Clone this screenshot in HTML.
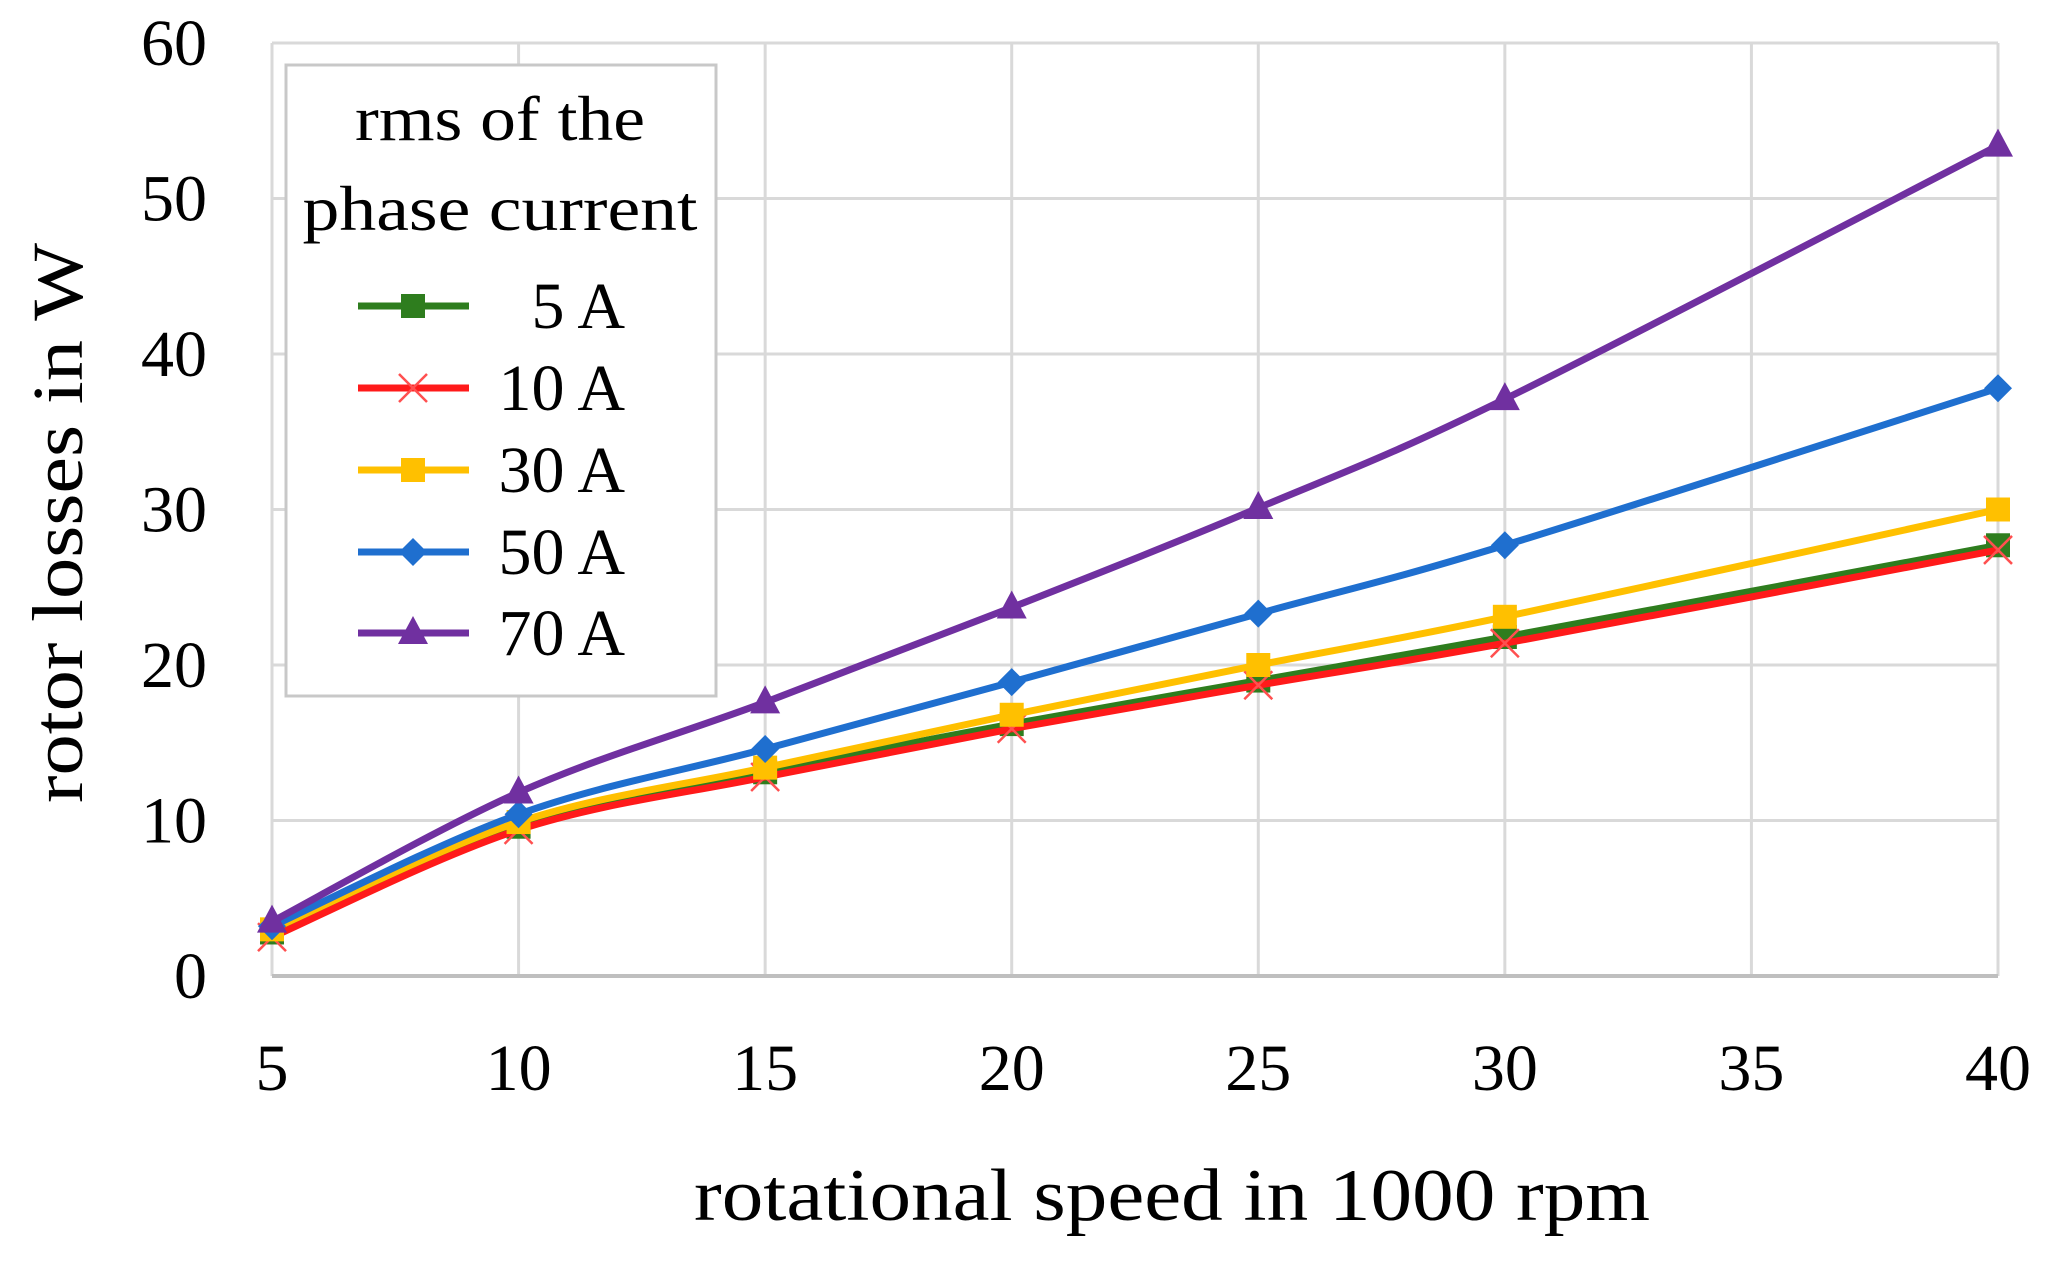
<!DOCTYPE html>
<html><head><meta charset="utf-8"><style>
html,body{margin:0;padding:0;background:#fff;}
svg{display:block;}
text{font-family:"Liberation Serif",serif;fill:#000;}
</style></head><body>
<svg id="chart" width="2046" height="1263" viewBox="0 0 2046 1263" xmlns="http://www.w3.org/2000/svg">
<g id="grid"></g>
<g id="axes"></g>
<g id="series"></g>
<text transform="translate(82,523) rotate(-90)" text-anchor="middle" font-size="72" textLength="560" lengthAdjust="spacingAndGlyphs">rotor losses in W</text>
<text x="1172" y="1220" text-anchor="middle" font-size="74" textLength="956" lengthAdjust="spacingAndGlyphs">rotational speed in 1000 rpm</text>
<g id="legend">
<rect x="286" y="65" width="430" height="631" fill="#fff" stroke="#c8c8c8" stroke-width="3"/>
<text x="500" y="140" text-anchor="middle" font-size="64" textLength="290" lengthAdjust="spacingAndGlyphs">rms of the</text>
<text x="500" y="230" text-anchor="middle" font-size="64" textLength="395" lengthAdjust="spacingAndGlyphs">phase current</text>
</g>
</svg>
<script>
const categories = [5, 10, 15, 20, 25, 30, 40];
const xTicks = [5, 10, 15, 20, 25, 30, 35, 40];
const yTicks = [0, 10, 20, 30, 40, 50, 60];
const seriesNames = ['5 A', '10 A', '30 A', '50 A', '70 A'];
const s5 = [2.8, 9.6, 13.1, 16.2, 19.0, 21.8, 27.7];
const s10 = [2.5, 9.4, 12.8, 15.9, 18.7, 21.4, 27.4];
const s30 = [3.0, 9.9, 13.4, 16.8, 20.0, 23.1, 30.0];
const s50 = [3.2, 10.4, 14.6, 18.9, 23.3, 27.7, 37.8];
const s70 = [3.5, 11.8, 17.6, 23.7, 30.1, 37.1, 53.4];

const NS = 'http://www.w3.org/2000/svg';
const X0 = 272, X1 = 1998, Y0 = 976, Y1 = 43;
function xs(v){ return X0 + (v - 5) / 35 * (X1 - X0); }
function ys(v){ return Y0 - v / 60 * (Y0 - Y1); }
function mk(tag, attrs, parent){ const e = document.createElementNS(NS, tag); for (const k in attrs) e.setAttribute(k, attrs[k]); parent.appendChild(e); return e; }

const grid = document.getElementById('grid');
const axes = document.getElementById('axes');
yTicks.forEach(t => {
  const l = mk('line', {x1: X0, x2: X1, y1: ys(t), y2: ys(t), stroke: '#d9d9d9', 'stroke-width': 3}, grid);
  
  
  const tx = mk('text', {x: 207, y: ys(t) + 22, 'text-anchor': 'end', 'font-size': 66}, axes);
  tx.textContent = t;
  
  
});
xTicks.forEach(t => {
  const l = mk('line', {x1: xs(t), x2: xs(t), y1: Y1, y2: Y0, stroke: '#d9d9d9', 'stroke-width': 3}, grid);
  
  
  const tx = mk('text', {x: xs(t), y: 1090, 'text-anchor': 'middle', 'font-size': 66}, axes);
  tx.textContent = t;
  
  
});
const ax = mk('line', {x1: X0, x2: X1, y1: Y0, y2: Y0, stroke: '#bfbfbf', 'stroke-width': 4}, axes);



function marker(type, x, y, color, parent){
  let e;
  if (type === 'square') e = mk('rect', {x: x - 12, y: y - 12, width: 24, height: 24, fill: color}, parent);
  else if (type === 'diamond') e = mk('polygon', {points: `${x},${y-14} ${x+14},${y} ${x},${y+14} ${x-14},${y}`, fill: color}, parent);
  else if (type === 'triangle') e = mk('polygon', {points: `${x},${y-17} ${x+15},${y+11} ${x-15},${y+11}`, fill: color}, parent);
  else e = mk('path', {d: `M${x-14},${y-14}L${x+14},${y+14}M${x+14},${y-14}L${x-14},${y+14}`, stroke: '#ff5050', 'stroke-width': 2.5, fill: 'none'}, parent);
  
  
}

function smoothPath(p){
  let d = `M${p[0][0]},${p[0][1]}`;
  const k = 1/6;
  for (let i = 0; i < p.length - 1; i++){
    const a = p[i-1] || p[i], b = p[i], c = p[i+1], e = p[i+2] || c;
    const c1 = [b[0] + (c[0]-a[0])*k, b[1] + (c[1]-a[1])*k];
    const c2 = [c[0] - (e[0]-b[0])*k, c[1] - (e[1]-b[1])*k];
    d += ` C${c1[0]},${c1[1]} ${c2[0]},${c2[1]} ${c[0]},${c[1]}`;
  }
  return d;
}

const allSeries = [s5, s10, s30, s50, s70];
const colors = ['#2e7d1e', '#ff1a1a', '#ffc000', '#1f6fcf', '#7030a0'];
const markers = ['square', 'cross', 'square', 'diamond', 'triangle'];
const sg = document.getElementById('series');
[0, 1, 2, 3, 4].forEach(i => {
  const g = mk('g', {}, sg);
  
  
  const pts = allSeries[i].map((v, j) => [xs(categories[j]), ys(v)]);
  const pl = mk('path', {d: smoothPath(pts), fill: 'none', stroke: colors[i], 'stroke-width': 7, 'stroke-linejoin': 'round'}, g);
  
  
  allSeries[i].forEach((v, j) => marker(markers[i], xs(categories[j]), ys(v), colors[i], g));
});

const lg = document.getElementById('legend');
const legendY = [306, 388, 470, 552, 633];
seriesNames.forEach((n, i) => {
  const g = mk('g', {}, lg);
  
  
  const l = mk('line', {x1: 358, x2: 469, y1: legendY[i], y2: legendY[i], stroke: colors[i], 'stroke-width': 7}, g);
  
  
  marker(markers[i], 413, legendY[i], colors[i], g);
  const t = mk('text', {x: 625, y: legendY[i] + 22, 'text-anchor': 'end', 'font-size': 66}, g);
  t.textContent = n;
  
  
});
</script>
</body></html>
